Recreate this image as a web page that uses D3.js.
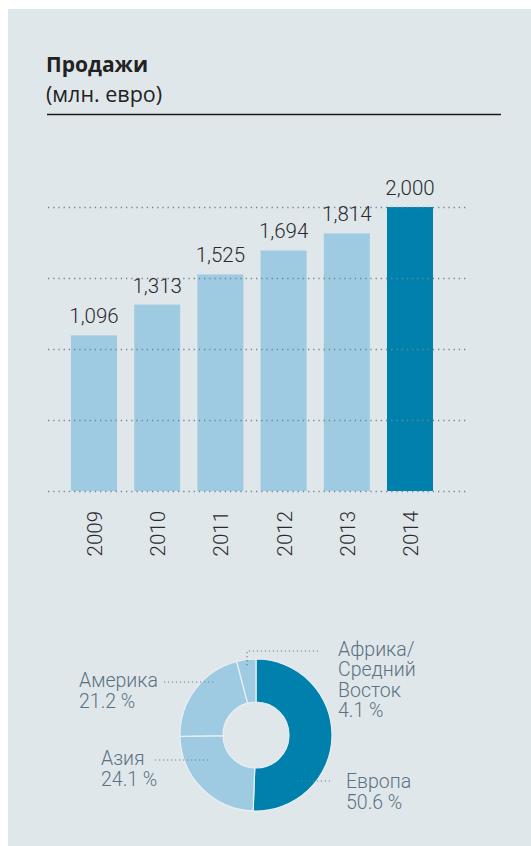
<!DOCTYPE html>
<html><head><meta charset="utf-8">
<script src="https://cdn.jsdelivr.net/npm/d3@7"></script>
<style>
html,body{margin:0;padding:0;background:#fff;}
svg{display:block;}
</style>
</head><body>
<svg id="chart" width="531" height="846"></svg>
<script>
// ---- data ----
const years = ["2009","2010","2011","2012","2013","2014"];
const sales = [1096, 1313, 1525, 1694, 1814, 2000];
const salesLabels = ["1,096","1,313","1,525","1,694","1,814","2,000"];
const gridTicks = [0, 500, 1000, 1500, 2000];
const regions = ["Европа","Азия","Америка","Африка/Средний Восток"];
const regionShares = [50.6, 24.1, 21.2, 4.1];
const regionLabelLines = [["Европа","50.6 %"],["Азия","24.1 %"],["Америка","21.2 %"],["Африка/","Средний","Восток","4.1 %"]];

// ---- layout ----
const W = 531, H = 846;
const svg = d3.select("#chart");
const light = "#9ecbe2", dark = "#0080ad";
const panel = "#e0e7eb";

svg.append("rect").attr("x", 8).attr("y", 9).attr("width", W - 8).attr("height", H - 9).attr("fill", panel);

// title
svg.append("text").attr("x", 46).attr("y", 72)
  .style("font-family", "'Open Sans'").style("font-weight", "bold").style("font-size", "21px")
  .attr("fill", "#222").text("Продажи");
svg.append("text").attr("x", 46).attr("y", 102)
  .style("font-family", "'Open Sans'").style("font-size", "21.5px")
  .attr("fill", "#222").text("(млн. евро)");
svg.append("line").attr("x1", 47).attr("x2", 501).attr("y1", 114.5).attr("y2", 114.5)
  .attr("stroke", "#1a1a1a").attr("stroke-width", 1.3);

// bar chart scales
const y = d3.scaleLinear().domain([0, 2000]).range([491, 207]);
const step = 63.2, pin = 0.272;
const x0 = 71 - (pin / 2) * step;
const x = d3.scaleBand().domain(years).range([x0, x0 + step * years.length])
  .paddingInner(pin).paddingOuter(pin / 2);

const bars = svg.append("g");
bars.selectAll("rect").data(years).join("rect")
  .attr("x", d => x(d))
  .attr("width", x.bandwidth())
  .attr("y", (d, i) => y(sales[i]))
  .attr("height", (d, i) => y(0) - y(sales[i]))
  .attr("fill", (d, i) => i === years.length - 1 ? dark : light);

// gridlines (over bars)
svg.append("g").selectAll("line").data(gridTicks).join("line")
  .attr("x1", 48).attr("x2", 468)
  .attr("y1", d => Math.round(y(d)) + 0.5).attr("y2", d => Math.round(y(d)) + 0.5)
  .attr("stroke", "#6f8591").attr("stroke-width", 1.3)
  .attr("stroke-dasharray", "1.3,3.9");

// value labels
svg.append("g").selectAll("text").data(years).join("text")
  .attr("x", d => x(d) + x.bandwidth() / 2)
  .attr("y", (d, i) => y(sales[i]) - 12)
  .attr("text-anchor", "middle")
  .style("font-family", "Roboto").style("font-weight", "300").style("font-size", "20.5px")
  .attr("fill", "#2b2b2b")
  .text((d, i) => salesLabels[i]);

// year labels (rotated)
svg.append("g").selectAll("text").data(years).join("text")
  .attr("transform", d => `translate(${x(d) + x.bandwidth() / 2 + 1},511) rotate(-90)`)
  .attr("text-anchor", "end")
  .attr("dominant-baseline", "central")
  .style("font-family", "Roboto").style("font-weight", "300").style("font-size", "20.5px")
  .attr("fill", "#2b2b2b")
  .text(d => d);

// donut
const cx = 256, cy = 735, rOuter = 76, rInner = 33;
const pie = d3.pie().sort(null).value(d => d)(regionShares);
const arc = d3.arc().innerRadius(rInner).outerRadius(rOuter);
const dg = svg.append("g").attr("transform", `translate(${cx},${cy})`);
dg.selectAll("path").data(pie).join("path")
  .attr("d", arc)
  .attr("fill", (d, i) => i === 0 ? dark : light)
  .attr("stroke", "#e9f0f3").attr("stroke-width", 1.2);

// labels with leaders
const labelLayout = [
  { tx: 346, ty: 788, lh: 21, leader: [[330, 781], [295, 781]] },
  { tx: 101, ty: 765, lh: 21, leader: [[155, 760], [210, 760]] },
  { tx: 79,  ty: 687, lh: 21, leader: [[164, 682], [214, 682]] },
  { tx: 338, ty: 656, lh: 20.4, leader: [[318, 651], [247, 651], [247, 668]] }
];
const lg = svg.append("g");
regions.forEach((r, i) => {
  const L = labelLayout[i];
  lg.append("path")
    .attr("d", d3.line()(L.leader))
    .attr("fill", "none").attr("stroke", "#6f8591").attr("stroke-width", 1.2)
    .attr("stroke-dasharray", "1.2,2.8");
  regionLabelLines[i].forEach((line, k) => {
    lg.append("text").attr("x", L.tx).attr("y", L.ty + k * L.lh)
      .style("font-family", "Roboto").style("font-weight", "300").style("font-size", "19.5px")
      .attr("fill", "#5b7282").text(line);
  });
});
</script>
</body></html>
